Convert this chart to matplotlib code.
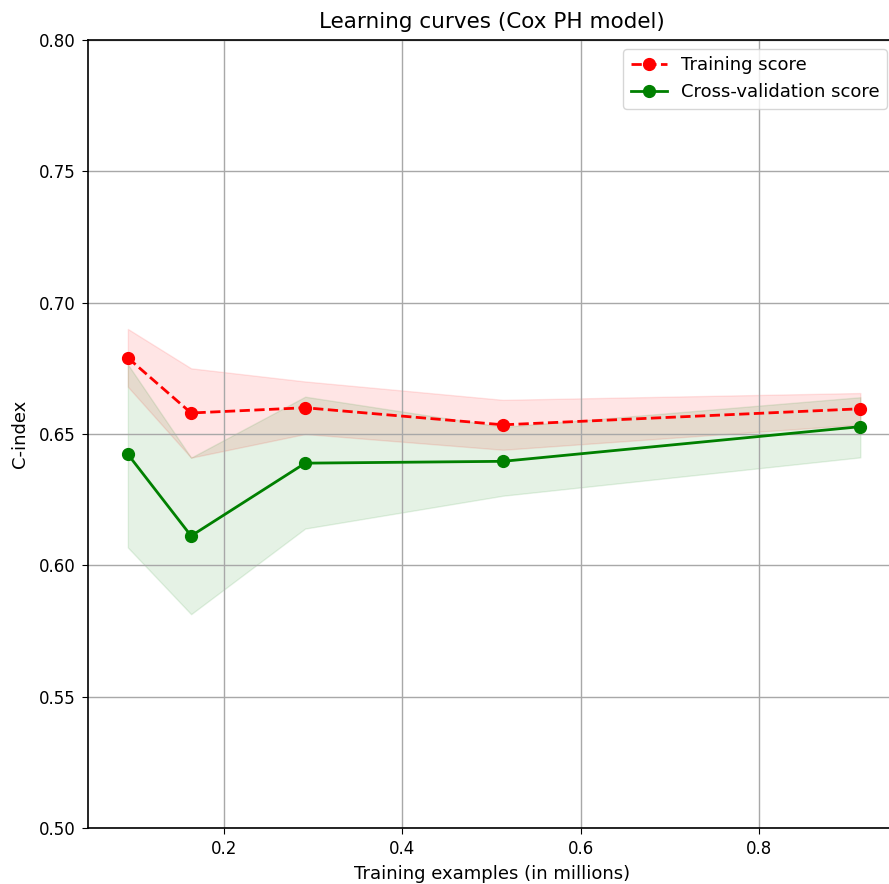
import numpy as np
import matplotlib
matplotlib.use('Agg')
import matplotlib.pyplot as plt

# training sizes (in millions) and scores
train_sizes = [0.092, 0.163, 0.291, 0.513, 0.914]

train_mean = [0.679, 0.658, 0.660, 0.6535, 0.6596]
train_upper = [0.690, 0.675, 0.670, 0.663, 0.6656]
train_lower = [0.668, 0.641, 0.650, 0.644, 0.6536]

cv_mean = [0.6423, 0.6112, 0.6389, 0.6396, 0.6528]
cv_upper = [0.6765, 0.641, 0.6642, 0.6527, 0.664]
cv_lower = [0.6068, 0.5814, 0.614, 0.6265, 0.6411]

yticks = [0.50, 0.55, 0.60, 0.65, 0.70, 0.75, 0.80]
xticks = [0.2, 0.4, 0.6, 0.8]

plt.rcParams['font.size'] = 13
plt.rcParams['xtick.labelsize'] = 12
plt.rcParams['ytick.labelsize'] = 12
plt.rcParams['xtick.major.size'] = 4.5
plt.rcParams['ytick.major.size'] = 4.5
plt.rcParams['xtick.major.pad'] = 4.5
plt.rcParams['ytick.major.pad'] = 4.5

fig = plt.figure(figsize=(8.89, 8.84), dpi=100)
# right edge of the axes runs past the figure, as in the cropped reference
ax = fig.add_axes([88 / 889, 56 / 884, 808 / 889, 788 / 884])

ax.grid(True, color='#a8a8a8', linewidth=1.0)
ax.fill_between(train_sizes, train_lower, train_upper, alpha=0.1, color='r')
ax.fill_between(train_sizes, cv_lower, cv_upper, alpha=0.1, color='g')
ax.plot(train_sizes, train_mean, 'o--', color='r', lw=2, ms=8.5, label='Training score')
ax.plot(train_sizes, cv_mean, 'o-', color='g', lw=2, ms=8.5, label='Cross-validation score')

ax.set_xlim(0.0473, 0.954)
ax.set_ylim(0.5, 0.8)
ax.set_xticks(xticks)
ax.set_yticks(yticks)
ax.set_yticklabels([f'{t:.2f}' for t in yticks])

ax.set_title('Learning curves (Cox PH model)', fontsize=15.5, pad=8.5)
ax.set_xlabel('Training examples (in millions)', labelpad=5)
ax.set_ylabel('C-index', labelpad=7)
ax.legend(loc='upper right')

for s in ax.spines.values():
    s.set_linewidth(1.2)

fig.savefig('out.png', dpi=100)
